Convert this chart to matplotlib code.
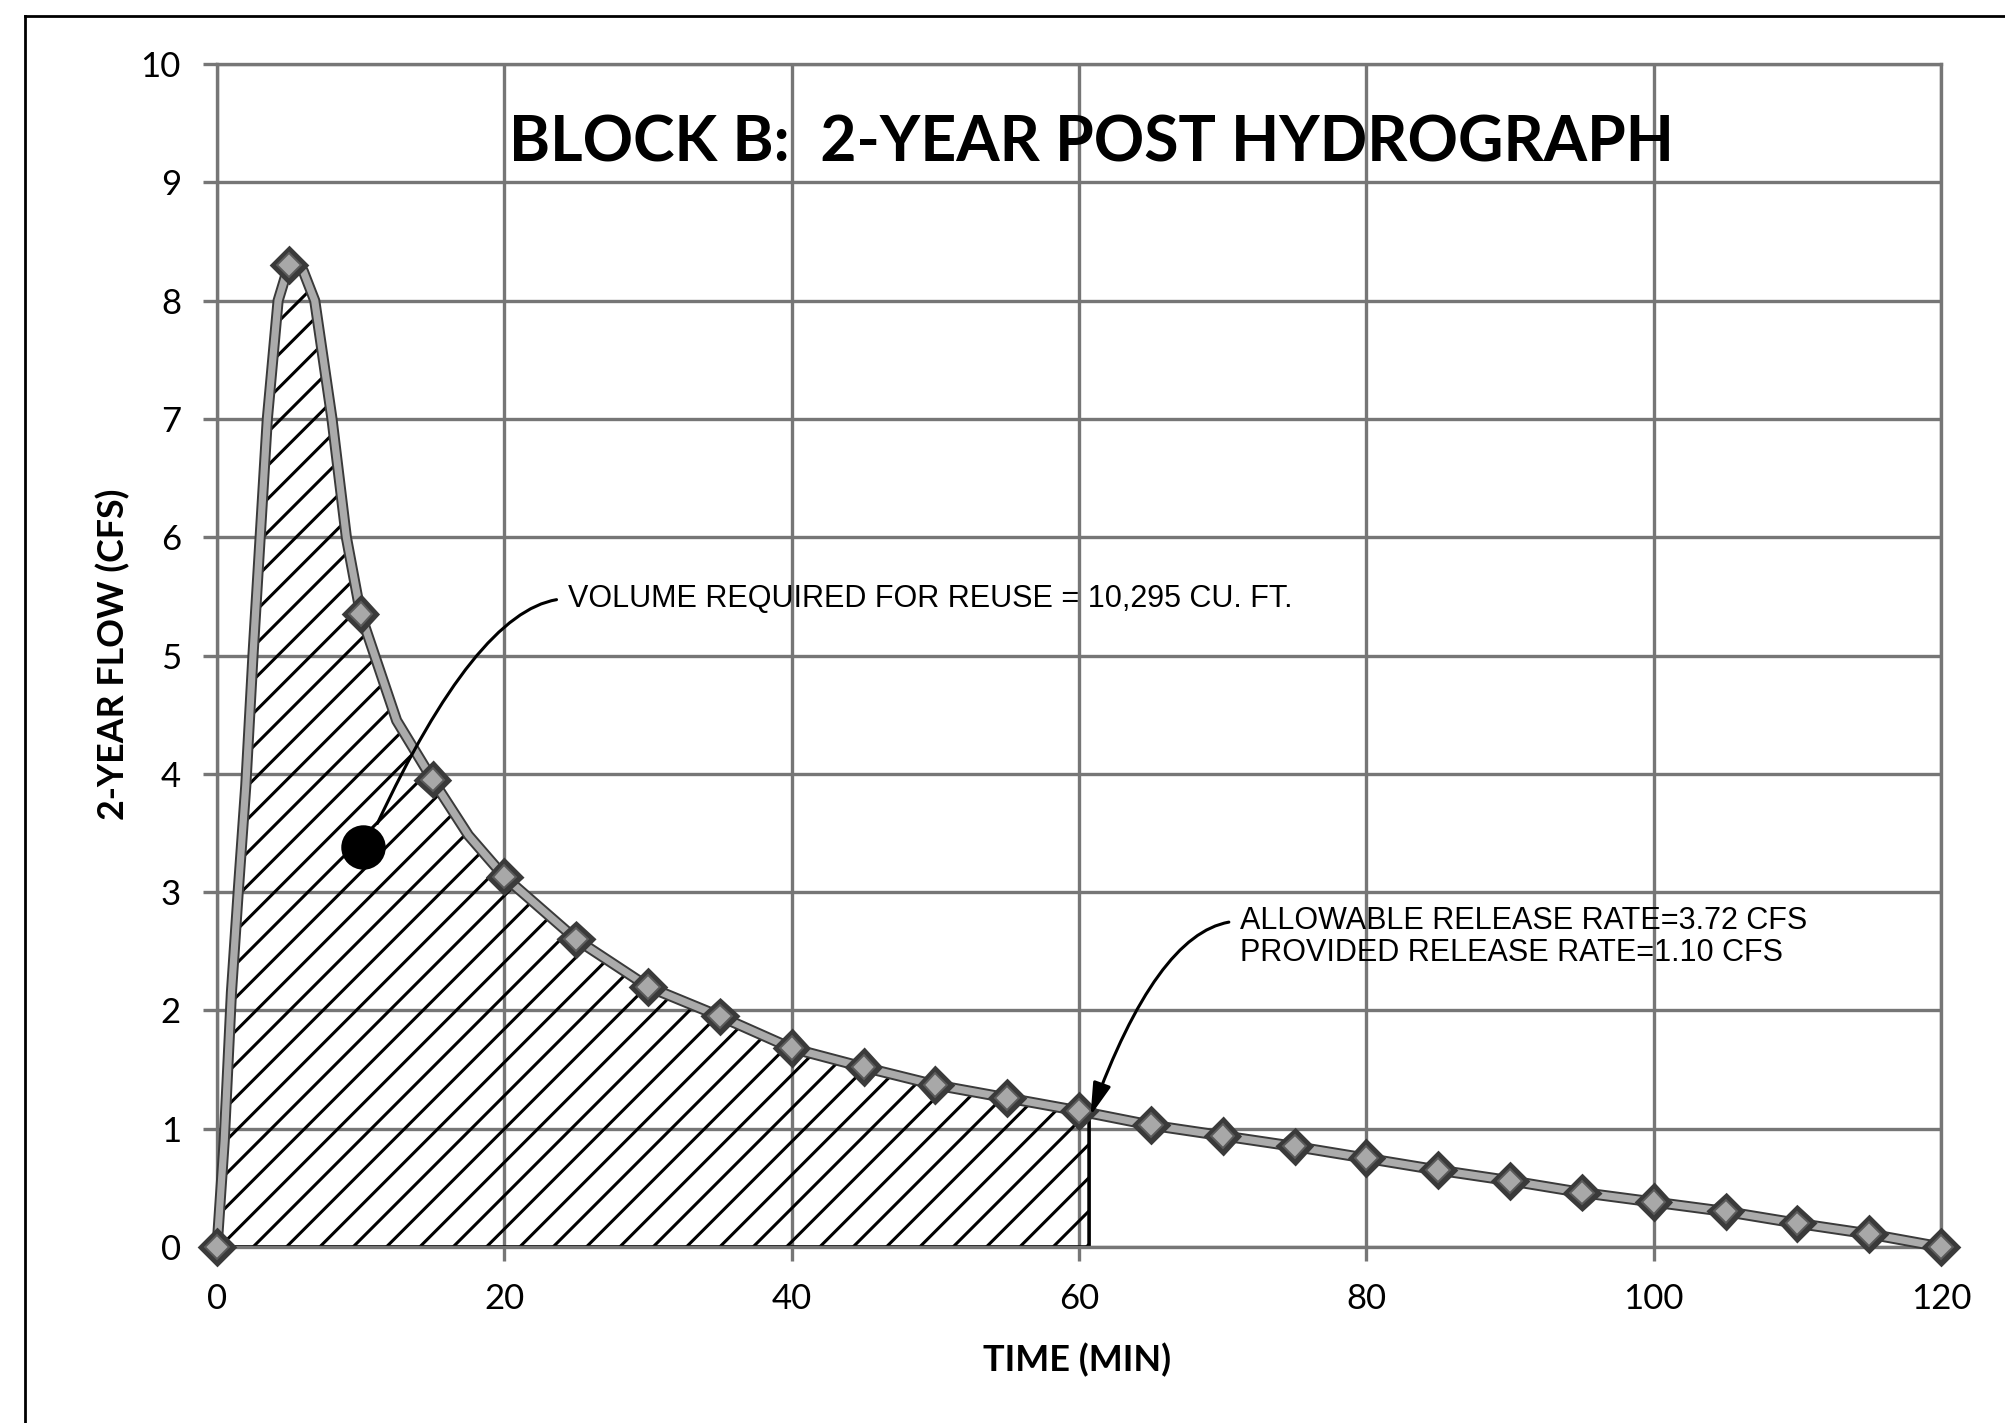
import matplotlib
matplotlib.use("Agg")
import matplotlib.pyplot as plt
import matplotlib.patheffects as pe
from matplotlib.lines import Line2D

# hydrograph (min, cfs)
time = [0, 0.5, 1, 1.5, 2, 2.5, 3, 3.5, 4.25, 5, 5.5, 6, 6.8, 8, 9, 10, 12.5, 15, 17.5,
        20, 25, 30, 35, 40, 45, 50, 55, 60, 65, 70, 75, 80, 85, 90, 95, 100, 105, 110, 115, 120]
flow = [0, 0.9, 2.15, 3.05, 3.9, 5.0, 6.0, 7.0, 8.0, 8.3, 8.33, 8.25, 8.0, 7.0, 6.0, 5.35, 4.45, 3.95, 3.48,
        3.13, 2.6, 2.2, 1.95, 1.68, 1.52, 1.37, 1.26, 1.15, 1.03, 0.94, 0.85, 0.75, 0.65, 0.56, 0.46,
        0.38, 0.3, 0.2, 0.11, 0]

# storage volume (hatched) ends where the release rate is reached
release_time = 60.7
release_flow = 1.10

dot_time, dot_flow = 10.16, 3.38

x_ticks = [0, 20, 40, 60, 80, 100, 120]
y_ticks = [0, 1, 2, 3, 4, 5, 6, 7, 8, 9, 10]

title = "BLOCK B:  2-YEAR POST HYDROGRAPH"
x_label = "TIME (MIN)"
y_label = "2-YEAR FLOW (CFS)"
vol_note = "VOLUME REQUIRED FOR REUSE = 10,295 CU. FT."
rate_note = "ALLOWABLE RELEASE RATE=3.72 CFS\nPROVIDED RELEASE RATE=1.10 CFS"

GRID = "#767676"
plt.rcParams["hatch.linewidth"] = 1.1

fig = plt.figure(figsize=(10.03, 7.115), dpi=200)
ax = fig.add_axes([0.1082, 0.1237, 0.8594, 0.8313])

ax.set_xlim(0, 120)
ax.set_ylim(0, 10)
ax.set_xticks(x_ticks)
ax.set_yticks(y_ticks)
ax.grid(True, color=GRID, lw=1.2)
ax.set_axisbelow(True)
for s in ax.spines.values():
    s.set_color(GRID)
    s.set_linewidth(1.2)
ax.tick_params(direction="out", length=5, width=1.2, color=GRID, labelsize=12.5, pad=8)
for lab in ax.get_xticklabels() + ax.get_yticklabels():
    lab.set_fontfamily("Lato")

# hatched area under the curve up to the release point
ht = [t for t in time if t < release_time] + [release_time]
hf = [f for t, f in zip(time, flow) if t < release_time] + [release_flow]
ax.fill_between(ht, hf, 0, facecolor="none", edgecolor="black", hatch="//", lw=1.3, zorder=2)

# excel series: grey line with dark edges, diamond every 5 min
marks = [i for i, t in enumerate(time) if t % 5 == 0]
ax.plot(time, flow, color="#ababab", lw=2.6, marker="D", ms=6, mfc="#a8a8a8", mec="#5a5a5a",
        mew=0.7, markevery=marks, clip_on=False, zorder=3,
        path_effects=[pe.Stroke(linewidth=4.0, foreground="#3a3a3a"), pe.Normal()])

ax.plot(dot_time, dot_flow, "o", color="black", ms=15, zorder=5)

# notes with CAD-style leaders
ax.annotate(vol_note, xy=(dot_time + 1.0, dot_flow + 0.2), xytext=(24.4, 5.48),
            fontsize=11, family="Liberation Sans", va="center", ha="left",
            arrowprops=dict(arrowstyle="-", lw=1.1, color="black", shrinkA=2, shrinkB=0,
                            relpos=(0, 0.5),
                            connectionstyle="angle3,angleA=0,angleB=65"), zorder=6)
ax.annotate(rate_note, xy=(60.8, 1.11), xytext=(71.2, 2.62),
            fontsize=11, family="Liberation Sans", va="center", ha="left", linespacing=1.05,
            arrowprops=dict(arrowstyle="-|>,head_length=0.9,head_width=0.25", lw=1.1, color="black",
                            shrinkA=2, shrinkB=0, relpos=(0, 0.76),
                            connectionstyle="angle3,angleA=0,angleB=70"),
            zorder=6)

fig.text(0.544, 0.899, title, ha="center", va="center", fontsize=22.5, fontweight="bold", family="Lato")
fig.text(0.537, 0.044, x_label, ha="center", va="center", fontsize=13, fontweight="bold", family="Lato")
fig.text(0.0565, 0.540, y_label, ha="center", va="center", rotation=90, fontsize=12.9,
         fontweight="bold", family="Lato")

# scanned page border
x0, y0 = 25 / 2006, 1 - 16 / 1423
fig.add_artist(Line2D([x0, x0], [y0, 0], transform=fig.transFigure, color="black", lw=1.0))
fig.add_artist(Line2D([x0, 1], [y0, y0], transform=fig.transFigure, color="black", lw=1.0))

fig.savefig("out.png", dpi=200)
